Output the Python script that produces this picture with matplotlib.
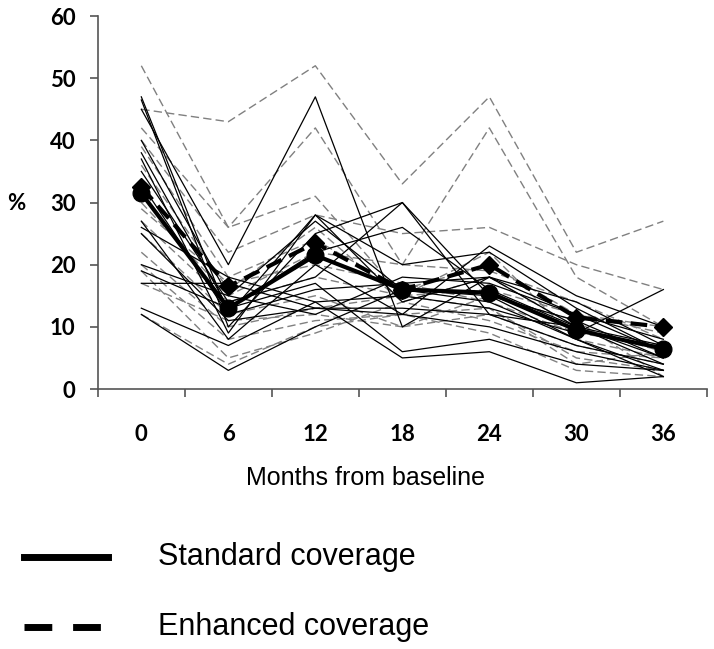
import numpy as np
import matplotlib.pyplot as plt
from matplotlib.lines import Line2D

months = ['0', '6', '12', '18', '24', '30', '36']

# individual areas, standard coverage (solid black)
standard = [
    [47, 12, 28, 14, 18, 12, 6],
    [46.5, 10, 25, 30, 15, 8, 3],
    [45, 20, 47, 10, 18, 10, 4],
    [40, 15, 27, 16, 14, 8, 2],
    [38, 13, 22, 26, 16, 10, 5],
    [37, 9, 28, 20, 22, 13, 6],
    [35, 14, 18, 30, 12, 7, 4],
    [33, 12, 16, 17, 18, 14, 7],
    [27, 8, 20, 12, 23, 15, 10],
    [26, 18, 14, 15, 13, 9, 16],
    [25, 11, 13, 12, 10, 6, 3],
    [20, 15, 12, 18, 17, 12, 8],
    [19, 13, 17, 6, 8, 4, 3],
    [17, 17, 13, 13, 12, 10, 7],
    [13, 7, 14, 5, 6, 1, 2],
    [12, 3, 10, 16, 15, 11, 5],
]

# individual areas, enhanced coverage (grey dashed)
enhanced = [
    [52, 26, 31, 15, 22, 8, 5],
    [45, 43, 52, 33, 47, 22, 27],
    [42, 26, 42, 20, 42, 18, 10],
    [40, 22, 28, 25, 26, 20, 16],
    [39, 18, 24, 16, 20, 12, 9],
    [36, 16, 26, 14, 18, 10, 6],
    [30, 15, 22, 20, 19, 14, 8],
    [29, 17, 20, 17, 14, 9, 7],
    [27, 14, 18, 15, 16, 12, 10],
    [25, 12, 15, 10, 12, 7, 4],
    [22, 10, 13, 15, 13, 5, 3],
    [20, 8, 11, 12, 13, 4, 6],
    [19, 5, 9, 14, 11, 6, 5],
    [17, 11, 12, 10, 15, 11, 2],
    [12, 4, 10, 12, 9, 3, 2],
]

mean_standard = [31.5, 13, 21.5, 16, 15.5, 9.5, 6.5]
mean_enhanced = [32.5, 16.5, 23.5, 16, 20, 11.5, 10]

fig = plt.figure(figsize=(7.14, 6.49), dpi=100)
ax = fig.add_axes([0.137, 0.4006, 0.853, 0.5747])
x = np.arange(len(months))

for row in enhanced:
    ax.plot(x, row, color='#808080', lw=1.0, dashes=(6, 3))
for row in standard:
    ax.plot(x, row, color='black', lw=0.9)

ax.plot(x, mean_enhanced, color='black', lw=3, dashes=(4, 2),
        marker='D', markersize=9)
ax.plot(x, mean_standard, color='black', lw=3,
        marker='o', markersize=12)

ax.set_xlim(-0.5, 6.5)
ax.set_ylim(0, 60)
ax.set_yticks(range(0, 61, 10))
ax.set_xticks(x)
ax.set_xticklabels(months)
ax.set_xticks(np.arange(-0.5, 7, 1), minor=True)
ax.tick_params(axis='x', which='major', length=0, pad=25)
ax.tick_params(axis='x', which='minor', length=6, width=1.2, color='#555555')
ax.tick_params(axis='y', length=6, width=1.2, color='#555555', pad=10)
for lab in ax.get_xticklabels() + ax.get_yticklabels():
    lab.set_fontsize(16)
    lab.set_fontweight('bold')
    lab.set_family('Lato')
ax.spines['top'].set_visible(False)
ax.spines['right'].set_visible(False)
ax.spines['left'].set_color('#555555')
ax.spines['bottom'].set_color('#555555')
ax.spines['left'].set_linewidth(1.2)
ax.spines['bottom'].set_linewidth(1.2)

fig.text(0.5126, 0.2635, 'Months from baseline', fontsize=18,
         family='Liberation Sans', ha='center', va='center')
fig.text(0.0098, 0.687, '%', fontsize=16, fontweight='bold', family='Lato',
         va='center')

# legend drawn below the chart
fig.add_artist(Line2D([0.0336, 0.151], [0.1418, 0.1418], color='black', lw=5))
fig.add_artist(Line2D([0.0336, 0.151], [0.0339, 0.0339], color='black', lw=5,
                      dashes=(4, 3)))
fig.text(0.2213, 0.1418, 'Standard coverage', fontsize=22,
         family='Liberation Sans', va='center')
fig.text(0.2213, 0.0339, 'Enhanced coverage', fontsize=22,
         family='Liberation Sans', va='center')

fig.savefig('out.png', dpi=100)
